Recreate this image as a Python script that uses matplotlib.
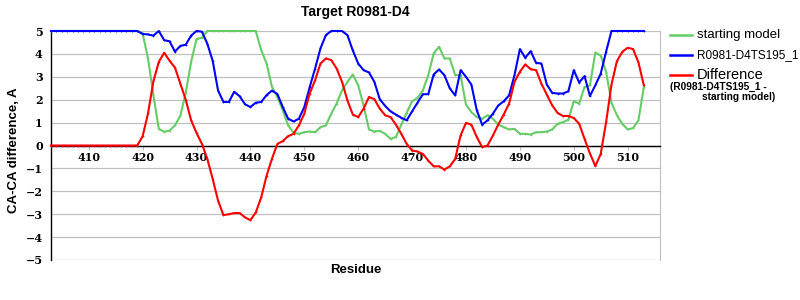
import numpy as np
import matplotlib.pyplot as plt
from matplotlib.lines import Line2D

# residue numbers
residues = np.arange(403, 514)

# CA-CA difference of the starting model
starting_model = [5.0, 5.0, 5.0, 5.0, 5.0, 5.0, 5.0, 5.0, 5.0, 5.0,
                  5.0, 5.0, 5.0, 5.0, 5.0, 5.0, 5.0,
                  4.9, 3.8, 2.2, 0.73, 0.6, 0.65, 0.88, 1.3, 2.3, 3.65,
                  4.65, 4.7, 5.0, 5.0, 5.0, 5.0, 5.0, 5.0, 5.0, 5.0,
                  5.0, 5.0, 4.17, 3.58, 2.56, 2.12, 1.54, 0.88, 0.56, 0.51,
                  0.58, 0.61, 0.58, 0.8, 0.88, 1.39, 1.83, 2.41, 2.78, 3.1,
                  2.63, 1.75, 0.7, 0.61, 0.64, 0.51, 0.29, 0.37, 0.91, 1.43,
                  1.93, 2.08, 2.41, 3.07, 4.02, 4.31, 3.8, 3.8, 3.07, 3.07,
                  1.78, 1.46, 1.24, 1.17, 1.32, 1.17, 0.91, 0.8, 0.7, 0.73,
                  0.51, 0.51, 0.48, 0.58, 0.58, 0.61, 0.7, 0.95, 1.02, 1.13,
                  1.93, 1.83, 2.56, 2.63, 4.06, 3.92, 3.22, 1.87, 1.32, 0.95,
                  0.7, 0.76, 1.1, 2.56]

# CA-CA difference of the submitted model
ts195 = [5.0, 5.0, 5.0, 5.0, 5.0, 5.0, 5.0, 5.0, 5.0, 5.0,
         5.0, 5.0, 5.0, 5.0, 5.0, 5.0, 5.0,
         4.87, 4.85, 4.8, 5.0, 4.6, 4.55, 4.1, 4.35, 4.4, 4.8,
         5.0, 4.97, 4.45, 3.7, 2.4, 1.9, 1.9, 2.35, 2.15, 1.8,
         1.68, 1.87, 1.9, 2.2, 2.4, 2.25, 1.68, 1.17, 1.05, 1.17,
         1.68, 2.55, 3.36, 4.24, 4.82, 5.0, 5.0, 5.0, 4.82, 4.15,
         3.58, 3.29, 3.19, 2.78, 2.02, 1.73, 1.49, 1.35, 1.21, 1.1,
         1.49, 1.87, 2.24, 2.24, 3.1, 3.32, 3.07, 2.49, 2.19, 3.29,
         3.0, 2.66, 1.54, 0.91, 1.1, 1.39, 1.75, 1.93, 2.19, 3.07,
         4.21, 3.83, 4.12, 3.61, 3.58, 2.66, 2.3, 2.27, 2.27, 2.37,
         3.29, 2.75, 3.03, 2.16, 2.63, 3.14, 4.1, 5.0, 5.0, 5.0,
         5.0, 5.0, 5.0, 5.0]

# difference (TS195 - starting model)
difference = [0.0, 0.0, 0.0, 0.0, 0.0, 0.0, 0.0, 0.0, 0.0, 0.0,
              0.0, 0.0, 0.0, 0.0, 0.0, 0.0, 0.0,
              0.4, 1.4, 2.8, 3.65, 4.05, 3.7, 3.4, 2.7, 2.0, 1.1,
              0.55, 0.07, -0.58, -1.46, -2.41, -3.04, -3.0, -2.95, -2.95, -3.14,
              -3.26, -2.92, -2.27, -1.32, -0.58, 0.07, 0.19, 0.41, 0.51, 0.88,
              1.39, 2.27, 2.85, 3.58, 3.8, 3.73, 3.36, 2.78, 1.97, 1.35,
              1.24, 1.61, 2.12, 2.02, 1.61, 1.32, 1.24, 0.91, 0.51, 0.07,
              -0.22, -0.26, -0.37, -0.66, -0.91, -0.91, -1.05, -0.91, -0.58, 0.44,
              0.99, 0.91, 0.37, -0.07, 0.0, 0.44, 0.92, 1.35, 1.83, 2.78,
              3.22, 3.54, 3.33, 3.29, 2.7, 2.22, 1.75, 1.42, 1.29, 1.29,
              1.2, 0.95, 0.29, -0.35, -0.9, -0.37, 1.02, 2.66, 3.68, 4.09,
              4.27, 4.21, 3.63, 2.63]

xticks = [410, 420, 430, 440, 450, 460, 470, 480, 490, 500, 510]
yticks = [-5, -4, -3, -2, -1, 0, 1, 2, 3, 4, 5]

GREEN = '#66cc66'
BLUE = '#0000ff'
RED = '#ff0000'
GRID = '#c0c0c0'

plt.rcParams['font.family'] = ['Liberation Sans', 'DejaVu Sans']

fig = plt.figure(figsize=(8, 3), dpi=100)
ax = fig.add_axes([51/800, 40/300, 609/800, 229/300])

for vals, col in [(starting_model, GREEN), (ts195, BLUE), (difference, RED)]:
    ax.plot(residues, vals, color=col, lw=1.5, marker='+', ms=2, mew=0.5,
            clip_on=False, zorder=3)

ax.set_xlim(403, 516)
ax.set_ylim(-5, 5)
ax.set_xticks(xticks)
ax.set_yticks(yticks)

# horizontal grid only
ax.grid(axis='y', color=GRID, lw=0.9)
ax.set_axisbelow(True)

# zero line acts as x axis
ax.spines['bottom'].set_position(('data', 0))
ax.spines['bottom'].set_color('black')
ax.spines['bottom'].set_linewidth(1.0)
ax.spines['top'].set_visible(False)
ax.spines['right'].set_color(GRID)
ax.spines['left'].set_color('black')
ax.spines['left'].set_linewidth(1.0)

ax.tick_params(axis='x', direction='out', length=3, color=GRID, pad=2)
ax.tick_params(axis='y', length=0, pad=6)
for lbl in ax.get_xticklabels() + ax.get_yticklabels():
    lbl.set_family('DejaVu Serif')
    lbl.set_fontweight('bold')
    lbl.set_fontsize(8)

ax.set_title('Target R0981-D4', fontsize=10, fontweight='bold', pad=11)
fig.text(355.5/800, 1 - 270/300, 'Residue', fontsize=9.5, fontweight='bold',
         ha='center', va='center')
fig.text(14/800, 1 - 150/300, 'CA-CA difference, A', fontsize=9.5,
         fontweight='bold', ha='center', va='center', rotation=90)

# legend drawn by hand
legend_rows = [('starting model', GREEN, 35, 9.5),
               ('R0981-D4TS195_1', BLUE, 55, 8.5),
               ('Difference', RED, 75, 10.5)]
for label, col, ypx, fs in legend_rows:
    yf = 1 - ypx/300
    fig.add_artist(Line2D([670/800, 692/800], [yf, yf], color=col, lw=1.8,
                          transform=fig.transFigure))
    fig.text(697/800, yf, label, fontsize=fs, va='center', ha='left')
fig.text(670/800, 1 - 87/300, '(R0981-D4TS195_1 -', fontsize=7.3,
         fontweight='bold', va='center', ha='left')
fig.text(702/800, 1 - 97/300, 'starting model)', fontsize=7.3,
         fontweight='bold', va='center', ha='left')

fig.savefig('out.png', dpi=100)
plt.close('all')
